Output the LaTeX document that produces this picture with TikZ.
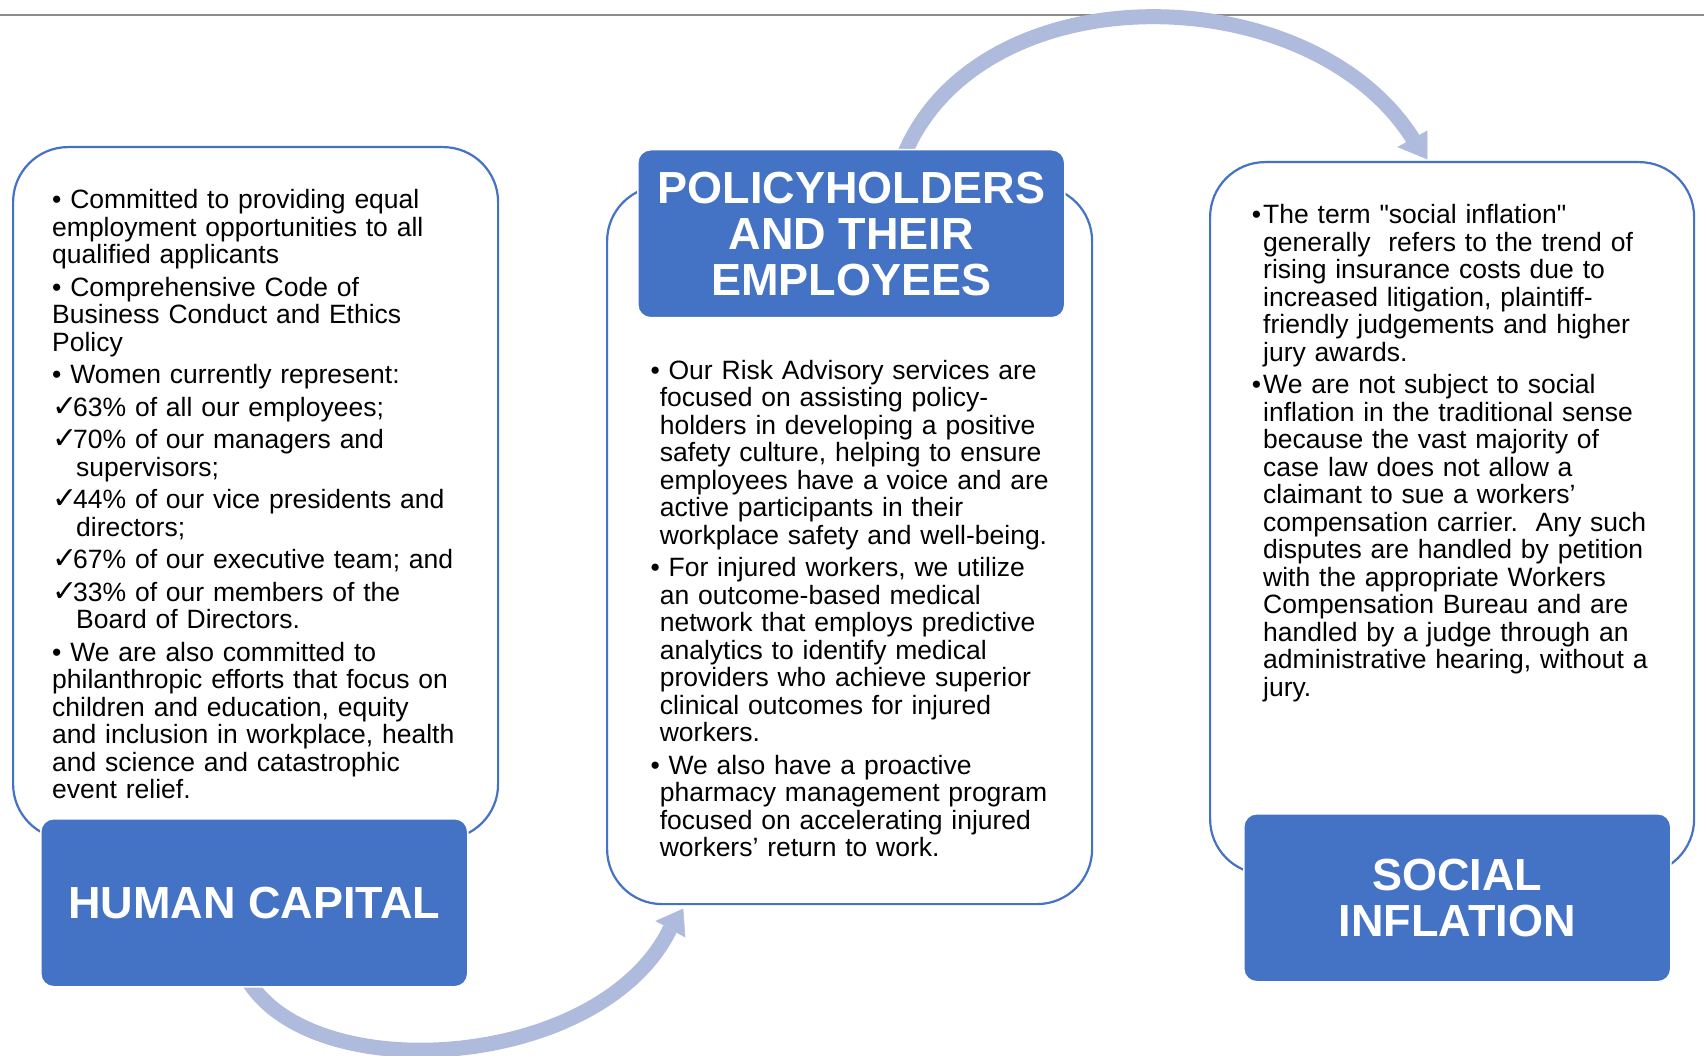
\documentclass[tikz,border=0pt]{standalone}
\usepackage{fontspec}
\setmainfont{Liberation Sans}
\newfontfamily\quotefont{Liberation Sans}
\newfontfamily\checkfont{DejaVu Sans}
\usetikzlibrary{arrows.meta}
\definecolor{accblue}{HTML}{4472C4}
\definecolor{arrowblue}{HTML}{AFBBDD}
\definecolor{rulegray}{HTML}{8C8C8C}
\newcommand{\bodyfont}{\fontsize{26.5}{27.5}\selectfont}
\newcommand{\titlefont}{\bfseries\fontsize{45}{46}\selectfont}
\newcommand{\chk}{\makebox[21pt][l]{\raisebox{0pt}[0pt][0pt]{\checkfont\fontsize{30}{27.5}\selectfont ✓}}}
\newcommand{\bul}{\leavevmode\llap{•}\ }
\newcommand{\bult}{\leavevmode\llap{•\hspace{2pt}}}
\newcommand{\dq}{{\quotefont"}}
\begin{document}
\begin{tikzpicture}[x=1pt,y=-1pt,
  bodybox/.style={draw=accblue, line width=2.2pt, fill=white, rounded corners=55pt, anchor=north west, inner sep=0pt},
  titlebox/.style={draw=white, line width=1.5pt, fill=accblue, rounded corners=13pt, anchor=north west, inner sep=0pt,
     minimum width=427pt, minimum height=168pt, text=white, font=\titlefont, align=center},
  bodytext/.style={anchor=base west, text width=460pt, align=left, inner sep=0pt, font=\bodyfont, text=black},
  band/.style={draw=arrowblue, line width=15pt},
  head/.style={fill=arrowblue, draw=arrowblue, line width=0.5pt, line join=miter}
]
\useasboundingbox (0,0) rectangle (1704,1056);
\fill[white] (0,0) rectangle (1704,1056);
\coordinate (rl) at (0,15);
\coordinate (rr) at (1704,15);
\draw[rulegray, line width=1.6pt] (rl) -- (rr);

% white content boxes
\node[bodybox, minimum width=485pt, minimum height=692pt] (hcbody) at (12,146) {};
\node[bodybox, minimum width=485pt, minimum height=718pt] (pebody) at (606,185) {};
\node[bodybox, minimum width=484pt, minimum height=712pt] (sibody) at (1209,161) {};

% arrows
\coordinate (a1s) at (902,160);
\coordinate (a1e) at (1413,139);
\coordinate (a1tip) at (1427,159);
\coordinate (a1r) at (1427,131);
\coordinate (a1l) at (1398,147);
\draw[band] (a1s) .. controls (975,-30) and (1310,-25) .. (a1e);
\fill[head] (a1tip) -- (a1r) -- (a1l) -- cycle;

\coordinate (a2s) at (245,975);
\coordinate (a2e) at (670,929);
\coordinate (a2tip) at (683,909);
\coordinate (a2r) at (685,937);
\coordinate (a2l) at (656,921);
\draw[band] (a2s) .. controls (305,1090) and (600,1072) .. (a2e);
\fill[head] (a2tip) -- (a2r) -- (a2l) -- cycle;

% title boxes
\node[titlebox] (hc) at (40,818) {HUMAN CAPITAL};
\node[titlebox] (pe) at (637,149) {POLICYHOLDERS\\AND THEIR\\EMPLOYEES};
\node[titlebox] (si) at (1243,813) {SOCIAL\\INFLATION};

% texts
\node[bodytext] (hctext) at (52,209) {%
• Committed to providing equal\\
employment opportunities to all\\
qualified applicants\\[5pt]
• Comprehensive Code of\\
Business Conduct and Ethics\\
Policy\\[5pt]
• Women currently represent:\\[5pt]
\chk 63\% of all our employees;\\[5pt]
\chk 70\% of our managers and\\
\hspace*{24pt}supervisors;\\[5pt]
\chk 44\% of our vice presidents and\\
\hspace*{24pt}directors;\\[5pt]
\chk 67\% of our executive team; and\\[5pt]
\chk 33\% of our members of the\\
\hspace*{24pt}Board of Directors.\\[5pt]
• We are also committed to\\
philanthropic efforts that focus on\\
children and education, equity\\
and inclusion in workplace, health\\
and science and catastrophic\\
event relief.};

\node[bodytext] (petext) at (659.6,379) {%
\bul Our Risk Advisory services are\\
focused on assisting policy-\\
holders in developing a positive\\
safety culture, helping to ensure\\
employees have a voice and are\\
active participants in their\\
workplace safety and well-being.\\[5pt]
\bul For injured workers, we utilize\\
an outcome-based medical\\
network that employs predictive\\
analytics to identify medical\\
providers who achieve superior\\
clinical outcomes for injured\\
workers.\\[5pt]
\bul We also have a proactive\\
pharmacy management program\\
focused on accelerating injured\\
workers’ return to work.};

\node[bodytext] (sitext) at (1263,224) {%
\bult The term \dq social inflation\dq\\
generally\ \ refers to the trend of\\
rising insurance costs due to\\
increased litigation, plaintiff-\\
friendly judgements and higher\\
jury awards.\\[5pt]
\bult We are not subject to social\\
inflation in the traditional sense\\
because the vast majority of\\
case law does not allow a\\
claimant to sue a workers’\\
compensation carrier.\ \ Any such\\
disputes are handled by petition\\
with the appropriate Workers\\
Compensation Bureau and are\\
handled by a judge through an\\
administrative hearing, without a\\
jury.};
\end{tikzpicture}
\end{document}
